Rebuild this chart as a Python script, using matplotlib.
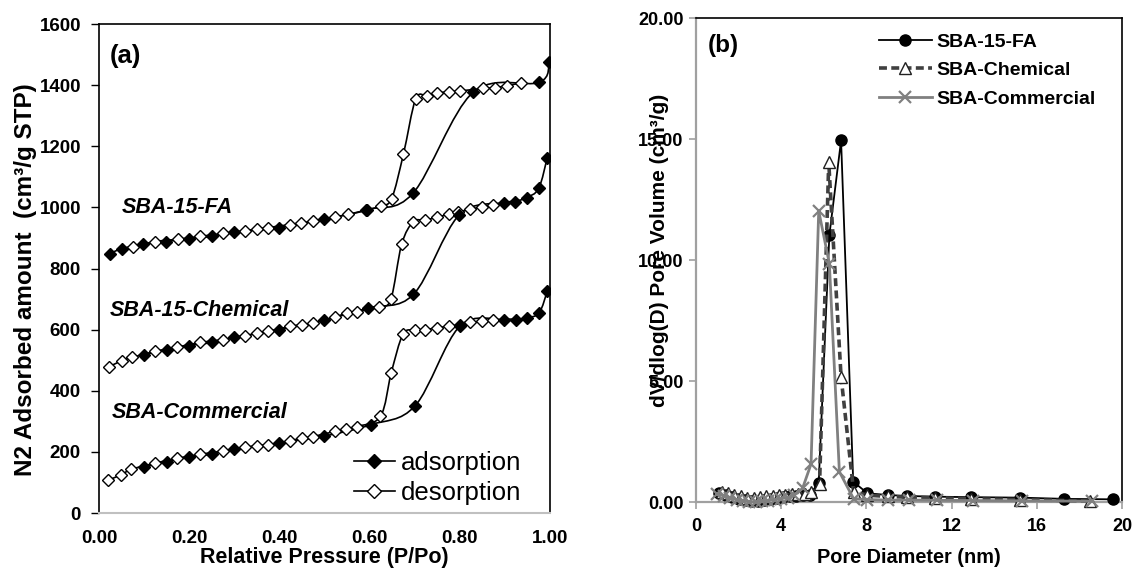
# N2 isotherms (a) and pore size distribution (b) for the three SBA samples
import numpy as np
import matplotlib
matplotlib.use("Agg")
import matplotlib.pyplot as plt
from matplotlib.path import Path
from matplotlib.patches import PathPatch
from matplotlib.lines import Line2D

plt.rcParams['font.family'] = ['Liberation Sans', 'DejaVu Sans']

# ---- panel (a): isotherm data, P/Po and amount adsorbed (cm3/g STP)
fa_ads_p = [0.024, 0.051, 0.098, 0.148, 0.2, 0.25, 0.3, 0.4, 0.5, 0.595, 0.696, 0.829, 0.976, 0.998]
fa_ads_v = [849, 865, 879, 888, 898, 905, 918, 934, 961, 993, 1046, 1376, 1409, 1477]
fa_des_p = [0.076, 0.124, 0.176, 0.224, 0.276, 0.324, 0.35, 0.375, 0.424, 0.449, 0.475, 0.523,
            0.553, 0.592, 0.625, 0.649, 0.675, 0.702, 0.727, 0.749, 0.775, 0.8, 0.852, 0.878,
            0.904, 0.935]
fa_des_v = [871, 888, 896, 905, 915, 924, 929, 934, 944, 950, 955, 969, 977, 990, 1005, 1029,
            1174, 1354, 1365, 1374, 1378, 1381, 1389, 1392, 1398, 1407]

chem_ads_p = [0.1, 0.15, 0.2, 0.25, 0.3, 0.4, 0.5, 0.597, 0.697, 0.798, 0.897, 0.922, 0.948, 0.975, 0.994]
chem_ads_v = [518, 534, 548, 558, 575, 600, 631, 671, 715, 974, 1015, 1019, 1032, 1062, 1163]
chem_des_p = [0.022, 0.05, 0.074, 0.124, 0.174, 0.224, 0.274, 0.324, 0.35, 0.375, 0.424, 0.45,
              0.474, 0.524, 0.549, 0.571, 0.62, 0.647, 0.671, 0.697, 0.723, 0.749, 0.775, 0.797,
              0.823, 0.849, 0.874]
chem_des_v = [478, 498, 509, 529, 543, 558, 567, 578, 589, 594, 611, 616, 622, 641, 655, 658,
              675, 699, 879, 953, 958, 968, 977, 985, 994, 1001, 1007]

comm_ads_p = [0.1, 0.15, 0.2, 0.25, 0.3, 0.4, 0.5, 0.603, 0.701, 0.8, 0.899, 0.924, 0.948, 0.976, 0.994]
comm_ads_v = [150, 168, 183, 193, 209, 229, 252, 289, 351, 611, 633, 633, 638, 655, 726]
comm_des_p = [0.021, 0.049, 0.072, 0.124, 0.174, 0.224, 0.274, 0.324, 0.35, 0.375, 0.424, 0.45,
              0.474, 0.523, 0.548, 0.571, 0.624, 0.648, 0.674, 0.7, 0.723, 0.749, 0.775, 0.8,
              0.823, 0.849, 0.874]
comm_des_v = [108, 125, 143, 163, 179, 192, 203, 215, 220, 223, 237, 245, 250, 267, 275, 283,
              316, 459, 585, 598, 600, 606, 611, 616, 624, 627, 631]

# ---- panel (b): pore size distribution, diameter (nm) and dV/dlog(D)
fa_d = [1.1, 1.4, 1.7, 2.0, 2.3, 2.6, 2.9, 3.2, 3.5, 3.8, 4.1, 4.4, 4.7, 5.0, 5.33, 5.76, 6.26,
        6.81, 7.38, 8.05, 8.99, 9.9, 11.2, 12.9, 15.2, 17.3, 19.6]
fa_v = [0.38, 0.3, 0.22, 0.15, 0.1, 0.07, 0.07, 0.1, 0.14, 0.18, 0.22, 0.25, 0.28, 0.3, 0.32,
        0.82, 11.05, 14.96, 0.86, 0.38, 0.31, 0.27, 0.24, 0.22, 0.2, 0.15, 0.13]
chem_d = [1.2, 1.5, 1.8, 2.1, 2.4, 2.7, 3.0, 3.3, 3.6, 3.9, 4.2, 4.5, 4.8, 5.1, 5.4, 5.8, 6.23,
          6.81, 7.4, 8.05, 9.0, 9.9, 11.2, 12.9, 15.2, 18.5]
chem_v = [0.45, 0.38, 0.3, 0.25, 0.2, 0.2, 0.22, 0.25, 0.28, 0.3, 0.32, 0.33, 0.35, 0.37, 0.45,
          0.75, 14.06, 5.19, 0.45, 0.3, 0.25, 0.22, 0.2, 0.15, 0.12, 0.06]
comm_d = [1.0, 1.3, 1.6, 1.9, 2.2, 2.5, 2.8, 3.1, 3.4, 3.7, 4.0, 4.3, 4.6, 5.0, 5.4, 5.76, 6.26,
          6.73, 7.4, 8.05, 9.0, 10.0, 11.3, 13.0, 15.3, 18.6]
comm_v = [0.35, 0.28, 0.2, 0.12, 0.06, 0.03, 0.03, 0.05, 0.08, 0.12, 0.16, 0.2, 0.3, 0.58, 1.59,
          12.05, 9.87, 1.27, 0.15, 0.12, 0.1, 0.1, 0.09, 0.08, 0.07, 0.05]


def smooth_path(x, y):
    # excel-style smoothed line: cubic bezier through the points
    pts = np.column_stack([x, y]).astype(float)
    n = len(pts)
    verts = [pts[0]]
    codes = [Path.MOVETO]
    for i in range(n - 1):
        p0 = pts[i - 1] if i > 0 else pts[i]
        p1 = pts[i]
        p2 = pts[i + 1]
        p3 = pts[i + 2] if i + 2 < n else pts[i + 1]
        verts += [p1 + (p2 - p0) / 6, p2 - (p3 - p1) / 6, p2]
        codes += [Path.CURVE4] * 3
    return Path(verts, codes)


fig = plt.figure(figsize=(11.34, 5.69), dpi=100)
ax1 = fig.add_axes([0.0873, 0.0984, 0.3977, 0.8594])
ax2 = fig.add_axes([0.6138, 0.1169, 0.3756, 0.8506])

# ---------------- (a)
series = [(fa_ads_p, fa_ads_v, fa_des_p, fa_des_v),
          (chem_ads_p, chem_ads_v, chem_des_p, chem_des_v),
          (comm_ads_p, comm_ads_v, comm_des_p, comm_des_v)]
for ap, av, dp, dv in series:
    for px, vy in [(dp, dv), (ap, av)]:
        ax1.add_patch(PathPatch(smooth_path(px, vy), fill=False, ec='black', lw=1.2, zorder=2))
    ax1.plot(dp, dv, ls='none', marker='D', ms=6.5, mfc='white', mec='black', mew=1.0, zorder=3)
    ax1.plot(ap, av, ls='none', marker='D', ms=6.5, mfc='black', mec='black', zorder=4)

ax1.set_xlim(0, 1.0)
ax1.set_ylim(0, 1600)
ax1.set_xticks(np.arange(0, 1.01, 0.2))
ax1.set_xticklabels(['0.00', '0.20', '0.40', '0.60', '0.80', '1.00'])
ax1.set_yticks(np.arange(0, 1601, 200))
ax1.tick_params(axis='y', direction='out', length=6, width=1, color='black', labelsize=13.5, pad=7)
ax1.tick_params(axis='x', length=0, labelsize=13.5, pad=12.5)
for lab in ax1.get_xticklabels() + ax1.get_yticklabels():
    lab.set_fontweight('bold')
for s in ['top', 'right', 'left']:
    ax1.spines[s].set_color('black')
    ax1.spines[s].set_linewidth(1.2)
ax1.spines['bottom'].set_color('#c0c0c0')
ax1.spines['bottom'].set_linewidth(1.5)
ax1.set_xlabel('Relative Pressure (P/Po)', fontsize=15.5, fontweight='bold', va='center')
ax1.xaxis.set_label_coords(0.5, -0.092)
ax1.set_ylabel('N2 Adsorbed amount  (cm³/g STP)', fontsize=17.5, fontweight='bold', va='center')
ax1.yaxis.set_label_coords(-0.162, 0.478)

ax1.text(0.024, 0.935, '(a)', transform=ax1.transAxes, fontsize=18.5, fontweight='bold', va='center')
ax1.text(0.05, 0.624, 'SBA-15-FA', transform=ax1.transAxes, fontsize=15.5,
         fontweight='bold', style='italic', va='center')
ax1.text(0.023, 0.415, 'SBA-15-Chemical', transform=ax1.transAxes, fontsize=15.5,
         fontweight='bold', style='italic', va='center')
ax1.text(0.028, 0.205, 'SBA-Commercial', transform=ax1.transAxes, fontsize=15.5,
         fontweight='bold', style='italic', va='center')

h_ads = Line2D([], [], color='black', lw=1.2, marker='D', ms=7, mfc='black', mec='black')
h_des = Line2D([], [], color='black', lw=1.2, marker='D', ms=7, mfc='white', mec='black')
ax1.legend([h_ads, h_des], ['adsorption', 'desorption'], loc='upper left',
           bbox_to_anchor=(0.565, 0.126), frameon=False, fontsize=18.5, handlelength=1.6,
           handletextpad=0.25, labelspacing=0.2, borderpad=0, borderaxespad=0)

# ---------------- (b)
ax2.plot(fa_d, fa_v, color='black', lw=1.3, marker='o', ms=8, mfc='black', mec='black',
         label='SBA-15-FA', clip_on=False, zorder=3)
ax2.plot(chem_d, chem_v, color='#404040', lw=2.6, ls=(0, (2.2, 1.2)), marker='^', ms=8,
         mfc='white', mec='#202020', mew=1.0, label='SBA-Chemical', clip_on=False, zorder=4)
ax2.plot(comm_d, comm_v, color='#808080', lw=2.0, marker='x', ms=9, mew=1.6,
         label='SBA-Commercial', clip_on=False, zorder=5)

ax2.set_xlim(0, 20)
ax2.set_ylim(0, 20)
ax2.set_xticks(np.arange(0, 21, 4))
ax2.set_yticks(np.arange(0, 21, 5))
ax2.set_yticklabels(['0.00', '5.00', '10.00', '15.00', '20.00'])
ax2.tick_params(direction='out', length=5, width=1.2, color='#a0a0a0', labelsize=13, pad=4)
ax2.tick_params(axis='x', pad=6)
for lab in ax2.get_xticklabels() + ax2.get_yticklabels():
    lab.set_fontweight('bold')
for s in ['left', 'bottom']:
    ax2.spines[s].set_color('#a0a0a0')
    ax2.spines[s].set_linewidth(1.6)
for s in ['top', 'right']:
    ax2.spines[s].set_color('black')
    ax2.spines[s].set_linewidth(1.2)
ax2.set_xlabel('Pore Diameter (nm)', fontsize=14.3, fontweight='bold', va='center')
ax2.xaxis.set_label_coords(0.5, -0.1147)
ax2.set_ylabel('dV/dlog(D) Pore Volume (cm³/g)', fontsize=15, fontweight='bold', va='center')
ax2.yaxis.set_label_coords(-0.085, 0.52)

ax2.text(0.028, 0.945, '(b)', transform=ax2.transAxes, fontsize=17.5, fontweight='bold', va='center')
ax2.legend(loc='upper left', bbox_to_anchor=(0.43, 0.97), frameon=False,
           handlelength=2.7, handletextpad=0.25, labelspacing=0.56, borderpad=0,
           borderaxespad=0, prop={'weight': 'bold', 'size': 14})

fig.savefig('out.png', dpi=100)
